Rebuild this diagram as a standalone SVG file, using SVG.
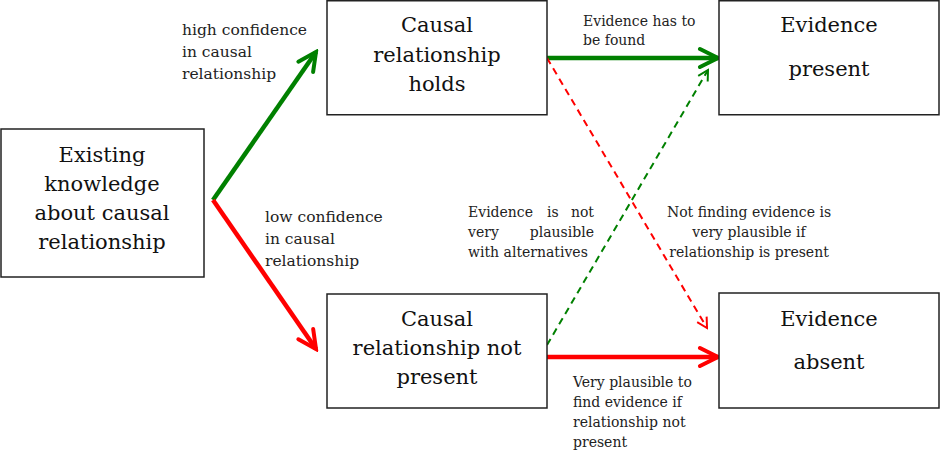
<svg xmlns="http://www.w3.org/2000/svg" width="940" height="452" viewBox="0 0 940 452">
  <style>
    .box { fill: #ffffff; stroke: #222222; stroke-width: 1.5; }
    .node { font-family: "DejaVu Serif", "Liberation Serif", serif; font-size: 21px; fill: #111111; text-anchor: middle; }
    .lbl { font-family: "DejaVu Serif", "Liberation Serif", serif; font-size: 15.5px; fill: #222222; }
    .sm { font-family: "DejaVu Serif", "Liberation Serif", serif; font-size: 14px; fill: #222222; }
    .solid { fill: none; stroke-width: 4.5; }
    .dash { fill: none; stroke-width: 2; stroke-dasharray: 7 5; }
    .green { stroke: #008000; }
    .red { stroke: #ff0000; }
  </style>
  <defs>
    <marker id="headGreen" markerUnits="userSpaceOnUse" viewBox="0 0 24 24" markerWidth="24" markerHeight="24" refX="21" refY="12" orient="auto">
      <path d="M3,3 L21,12 L3,21" fill="none" stroke="#008000" stroke-width="4" stroke-linecap="round" stroke-linejoin="miter"/>
    </marker>
    <marker id="headRed" markerUnits="userSpaceOnUse" viewBox="0 0 24 24" markerWidth="24" markerHeight="24" refX="21" refY="12" orient="auto">
      <path d="M3,3 L21,12 L3,21" fill="none" stroke="#ff0000" stroke-width="4" stroke-linecap="round" stroke-linejoin="miter"/>
    </marker>
    <marker id="headGreenThin" markerUnits="userSpaceOnUse" viewBox="0 0 14 14" markerWidth="14" markerHeight="14" refX="12" refY="7" orient="auto">
      <path d="M2,1.5 L12,7 L2,12.5" fill="none" stroke="#008000" stroke-width="2"/>
    </marker>
    <marker id="headRedThin" markerUnits="userSpaceOnUse" viewBox="0 0 14 14" markerWidth="14" markerHeight="14" refX="12" refY="7" orient="auto">
      <path d="M2,1.5 L12,7 L2,12.5" fill="none" stroke="#ff0000" stroke-width="2"/>
    </marker>
  </defs>

  <!-- connectors -->
  <g id="connectors">
    <line class="solid green" x1="213" y1="200" x2="316" y2="52" marker-end="url(#headGreen)"/>
    <line class="solid red" x1="213" y1="200" x2="316" y2="349" marker-end="url(#headRed)"/>
    <line class="solid green" x1="547" y1="58" x2="718" y2="58" marker-end="url(#headGreen)"/>
    <line class="solid red" x1="547" y1="357" x2="718" y2="357" marker-end="url(#headRed)"/>
    <line class="dash red" x1="547" y1="58" x2="707" y2="328" marker-end="url(#headRedThin)"/>
    <line class="dash green" x1="547" y1="345" x2="708" y2="70" marker-end="url(#headGreenThin)"/>
  </g>

  <!-- nodes -->
  <g id="existing-knowledge">
    <rect class="box" x="1" y="129" width="203" height="148"/>
    <text class="node" x="102" y="162">Existing</text>
    <text class="node" x="102" y="191">knowledge</text>
    <text class="node" x="102" y="220">about causal</text>
    <text class="node" x="102" y="249">relationship</text>
  </g>

  <g id="relationship-holds">
    <rect class="box" x="327" y="0.75" width="220" height="114"/>
    <text class="node" x="437" y="32">Causal</text>
    <text class="node" x="437" y="62">relationship</text>
    <text class="node" x="437" y="91">holds</text>
  </g>

  <g id="evidence-present">
    <rect class="box" x="719" y="0.75" width="220" height="114"/>
    <text class="node" x="829" y="32">Evidence</text>
    <text class="node" x="829" y="76">present</text>
  </g>

  <g id="relationship-not-present">
    <rect class="box" x="327" y="294" width="220" height="114"/>
    <text class="node" x="437" y="326">Causal</text>
    <text class="node" x="437" y="355">relationship not</text>
    <text class="node" x="437" y="384">present</text>
  </g>

  <g id="evidence-absent">
    <rect class="box" x="719" y="293" width="220" height="115"/>
    <text class="node" x="829" y="326">Evidence</text>
    <text class="node" x="829" y="369">absent</text>
  </g>

  <!-- connector labels -->
  <g id="labels">
    <text class="lbl" x="182" y="35">high confidence</text>
    <text class="lbl" x="182" y="57">in causal</text>
    <text class="lbl" x="182" y="79">relationship</text>

    <text class="lbl" x="265" y="222">low confidence</text>
    <text class="lbl" x="265" y="244">in causal</text>
    <text class="lbl" x="265" y="266">relationship</text>

    <text class="sm" x="583" y="26">Evidence has to</text>
    <text class="sm" x="583" y="45">be found</text>

    <text class="sm" x="468" y="217">Evidence</text>
    <text class="sm" x="547" y="217">is</text>
    <text class="sm" x="594" y="217" text-anchor="end">not</text>
    <text class="sm" x="468" y="237">very</text>
    <text class="sm" x="594" y="237" text-anchor="end">plausible</text>
    <text class="sm" x="468" y="257">with alternatives</text>

    <text class="sm" x="749" y="217" text-anchor="middle">Not finding evidence is</text>
    <text class="sm" x="749" y="237" text-anchor="middle">very plausible if</text>
    <text class="sm" x="749" y="257" text-anchor="middle">relationship is present</text>

    <text class="sm" x="573" y="387">Very plausible to</text>
    <text class="sm" x="573" y="407">find evidence if</text>
    <text class="sm" x="573" y="427">relationship not</text>
    <text class="sm" x="573" y="447">present</text>
  </g>
</svg>
